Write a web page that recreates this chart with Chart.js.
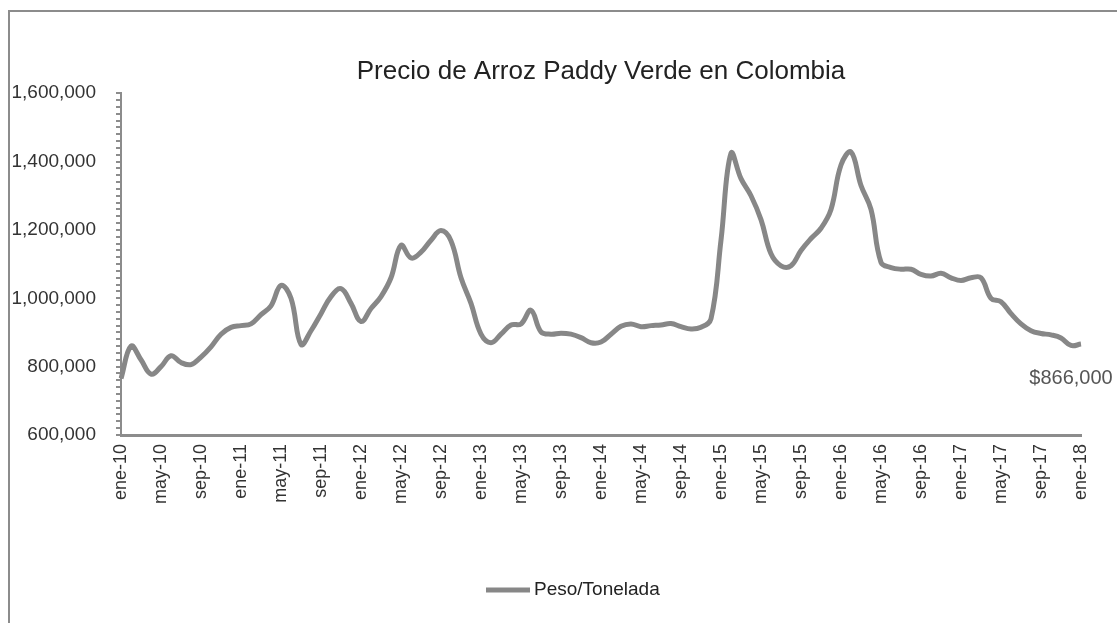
<!DOCTYPE html>
<html>
<head>
<meta charset="utf-8">
<script src="https://cdn.jsdelivr.net/npm/chart.js@4.4.1/dist/chart.umd.min.js"></script>
<style>
  html, body { margin: 0; padding: 0; background: #fff; }
  #wrap { width: 1117px; height: 623px; position: relative; }
</style>
</head>
<body>
<div id="wrap"><canvas id="arrozChart" width="1117" height="623"></canvas></div>
<script>
const labels = [
  'ene-10','feb-10','mar-10','abr-10','may-10','jun-10','jul-10','ago-10','sep-10','oct-10','nov-10','dic-10',
  'ene-11','feb-11','mar-11','abr-11','may-11','jun-11','jul-11','ago-11','sep-11','oct-11','nov-11','dic-11',
  'ene-12','feb-12','mar-12','abr-12','may-12','jun-12','jul-12','ago-12','sep-12','oct-12','nov-12','dic-12',
  'ene-13','feb-13','mar-13','abr-13','may-13','jun-13','jul-13','ago-13','sep-13','oct-13','nov-13','dic-13',
  'ene-14','feb-14','mar-14','abr-14','may-14','jun-14','jul-14','ago-14','sep-14','oct-14','nov-14','dic-14',
  'ene-15','feb-15','mar-15','abr-15','may-15','jun-15','jul-15','ago-15','sep-15','oct-15','nov-15','dic-15',
  'ene-16','feb-16','mar-16','abr-16','may-16','jun-16','jul-16','ago-16','sep-16','oct-16','nov-16','dic-16',
  'ene-17','feb-17','mar-17','abr-17','may-17','jun-17','jul-17','ago-17','sep-17','oct-17','nov-17','dic-17',
  'ene-18'
];

// Peso/Tonelada, un valor por mes
const precio = [
  765000, 860000, 820000, 778000, 800000, 832000, 812000, 806000, 828000, 858000, 895000, 915000,
  920000, 925000, 952000, 978000, 1038000, 1000000, 865000, 905000, 955000, 1005000, 1028000, 985000,
  932000, 970000, 1005000, 1060000, 1155000, 1118000, 1135000, 1170000, 1198000, 1168000, 1060000, 985000,
  895000, 870000, 895000, 922000, 925000, 965000, 902000, 895000, 898000, 895000, 885000, 870000,
  872000, 895000, 918000, 925000, 917000, 920000, 922000, 926000, 917000, 910000, 915000, 940000,
  1170000, 1424000, 1350000, 1300000, 1230000, 1130000, 1095000, 1095000, 1140000, 1175000, 1205000, 1260000,
  1390000, 1428000, 1330000, 1260000, 1105000, 1090000, 1085000, 1085000, 1070000, 1065000, 1073000, 1060000,
  1052000, 1060000, 1060000, 1000000, 990000, 955000, 925000, 905000, 897000, 893000, 884000, 862000,
  866000
];

const fontFam = "'Liberation Sans', Arial, sans-serif";
const lineColor = '#878787';

const fmt = v => v.toLocaleString('en-US');

const frame = {
  id: 'frame',
  beforeDraw(chart) {
    const c = chart.ctx;
    c.save();
    c.fillStyle = '#fff';
    c.fillRect(0, 0, chart.width, chart.height);
    c.strokeStyle = '#8c8c8c';
    c.lineWidth = 2;
    c.beginPath();
    c.moveTo(9, chart.height);
    c.lineTo(9, 11);
    c.lineTo(chart.width, 11);
    c.stroke();
    c.restore();
  }
};

// último valor y leyenda
const extras = {
  id: 'extras',
  afterDatasetsDraw(chart) {
    const pts = chart.getDatasetMeta(0).data;
    const p = pts[pts.length - 1];
    const v = precio[precio.length - 1];
    const c = chart.ctx;
    c.save();
    c.font = "20px " + fontFam;
    c.fillStyle = '#555';
    c.textAlign = 'center';
    c.textBaseline = 'middle';
    c.fillText('$' + fmt(v), p.x - 10, p.y + 34);

    // leyenda
    const ly = 590;
    c.strokeStyle = lineColor;
    c.lineWidth = 5;
    c.beginPath();
    c.moveTo(486, ly);
    c.lineTo(530, ly);
    c.stroke();
    c.font = "19px " + fontFam;
    c.fillStyle = '#222';
    c.textAlign = 'left';
    c.fillText(chart.data.datasets[0].label, 534, ly);
    c.restore();
  }
};

const ctx = document.getElementById('arrozChart').getContext('2d');

new Chart(ctx, {
  type: 'line',
  data: {
    labels: labels,
    datasets: [{
      label: 'Peso/Tonelada',
      data: precio,
      borderColor: lineColor,
      backgroundColor: lineColor,
      borderWidth: 5,
      pointRadius: 0,
      tension: 0.4,
      fill: false
    }]
  },
  options: {
    responsive: false,
    animation: false,
    layout: { padding: { top: 56, right: 36, left: 8, bottom: 53 } },
    scales: {
      x: {
        offset: false,
        afterFit(scale) { scale.height = 135; },
        grid: { display: false, drawTicks: false },
        border: { display: true, color: '#8c8c8c', width: 3 },
        ticks: {
          autoSkip: false,
          maxRotation: 90,
          minRotation: 90,
          padding: 9,
          color: '#333',
          font: { family: fontFam, size: 18 },
          callback: function(val, i) { return i % 4 === 0 ? labels[i] : ''; }
        }
      },
      y: {
        min: 600000,
        max: 1600000,
        afterFit(scale) { scale.width = 113; },
        grid: { drawOnChartArea: false, drawTicks: true, tickLength: 5, color: '#8c8c8c', lineWidth: 2 },
        border: { display: true, color: '#8c8c8c', width: 2 },
        ticks: {
          stepSize: 20000,
          autoSkip: false,
          padding: 20,
          color: '#333',
          font: { family: fontFam, size: 19 },
          callback: v => (v % 200000 === 0 ? fmt(v) : '')
        }
      }
    },
    plugins: {
      title: {
        display: true,
        fullSize: false,
        text: 'Precio de Arroz Paddy Verde en Colombia',
        color: '#222',
        font: { family: fontFam, size: 26, weight: 'normal' },
        padding: { top: 0, bottom: 6 }
      },
      legend: { display: false },
      tooltip: { enabled: false }
    }
  },
  plugins: [frame, extras]
});
</script>
</body>
</html>
